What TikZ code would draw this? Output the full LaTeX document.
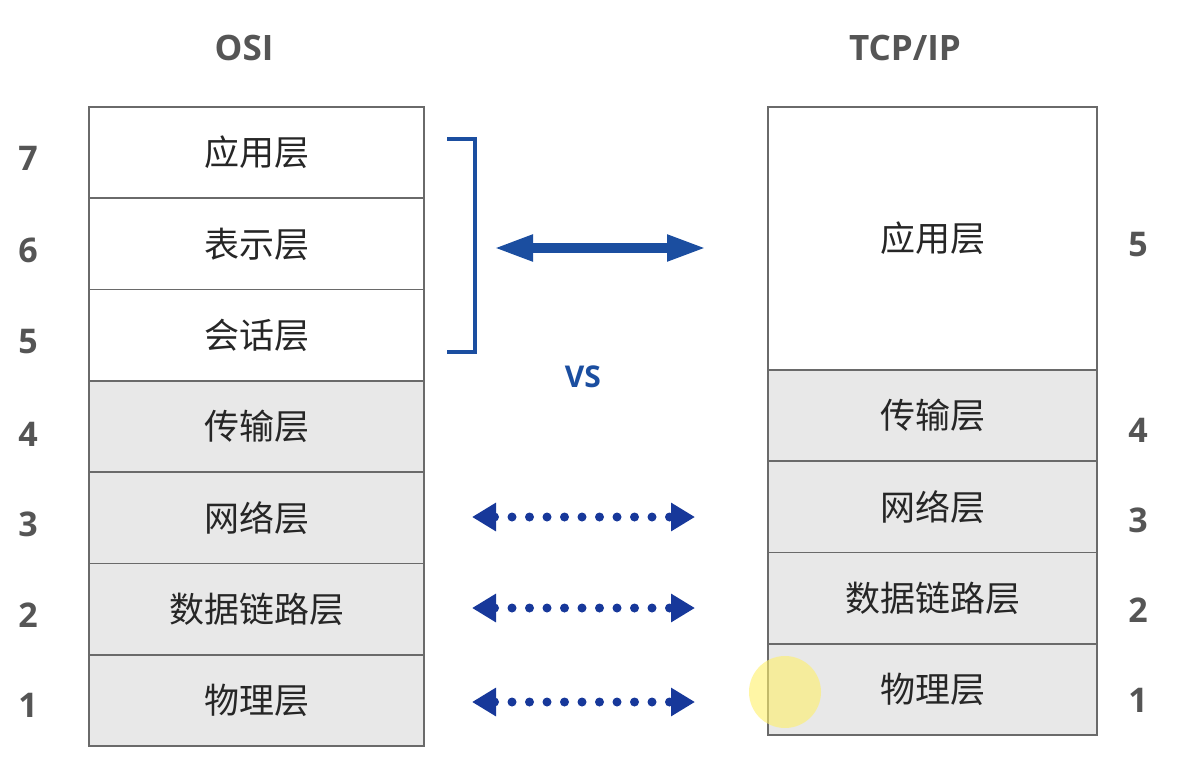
\documentclass[tikz,border=0pt]{standalone}
\usepackage{fontspec}
\setmainfont{Open Sans}
\newfontfamily\cjk{Noto Sans CJK SC}
\usetikzlibrary{arrows.meta}
\definecolor{bordergray}{HTML}{6A6A6A}
\definecolor{fillgray}{HTML}{E8E8E8}
\definecolor{titlegray}{HTML}{555555}
\definecolor{arrowblue}{HTML}{1B4EA0}
\definecolor{dotblue}{HTML}{17389A}
\definecolor{hiyellow}{HTML}{FFF06A}
\tikzset{
  layer/.style={draw=bordergray, line width=1.6pt, inner sep=0pt, outer sep=0pt,
    font=\cjk\fontsize{35}{35}\selectfont, text=black!85},
  osilayer/.style={layer, minimum width=335pt, minimum height=91.3pt},
  tcplayer/.style={layer, minimum width=329pt, minimum height=91.3pt},
  grayfill/.style={fill=fillgray},
  num/.style={font=\fontsize{34}{34}\selectfont\bfseries, text=titlegray},
  title/.style={font=\fontsize{35}{35}\selectfont\bfseries, text=titlegray},
  bigarrow/.style={draw=arrowblue, line width=10pt,
    {Triangle[length=40pt,width=24pt]}-{Triangle[length=40pt,width=24pt]}},
  dotarrow/.style={draw=dotblue, line width=9pt, line cap=round, dash pattern=on 0pt off 17.5pt,
    {Triangle[length=24pt,width=27pt]}-{Triangle[length=24pt,width=27pt]}},
  bracketline/.style={draw=arrowblue, line width=4.5pt}
}
\begin{document}
\begin{tikzpicture}[x=1pt,y=-1pt]
\useasboundingbox[fill=white] (0,0) rectangle (1190,770);
% titles
\node[title] (tosi) at (244,48) {OSI};
\node[title] (ttcp) at (905,48) {TCP/IP};
% OSI stack
\node[osilayer] (o7) at (256.5,152.6) {应用层};
\node[osilayer] (o6) at (256.5,243.9) {表示层};
\node[osilayer] (o5) at (256.5,335.2) {会话层};
\node[osilayer,grayfill] (o4) at (256.5,426.5) {传输层};
\node[osilayer,grayfill] (o3) at (256.5,517.8) {网络层};
\node[osilayer,grayfill] (o2) at (256.5,609.1) {数据链路层};
\node[osilayer,grayfill] (o1) at (256.5,700.4) {物理层};
% TCP/IP stack
\node[tcplayer, minimum height=263pt] (t5) at (932.5,238.5) {应用层};
\node[tcplayer,grayfill] (t4) at (932.5,415.5) {传输层};
\node[tcplayer,grayfill] (t3) at (932.5,506.8) {网络层};
\node[tcplayer,grayfill] (t2) at (932.5,598.1) {数据链路层};
\node[tcplayer,grayfill] (t1) at (932.5,689.4) {物理层};
% numbers
\node[num] (n7) at (28,158) {7};
\node[num] (n6) at (28,250) {6};
\node[num] (n5) at (28,342) {5};
\node[num] (n4) at (28,434) {4};
\node[num] (n3) at (28,524) {3};
\node[num] (n2) at (28,615) {2};
\node[num] (n1) at (28,705) {1};
\node[num] (m5) at (1138,245) {5};
\node[num] (m4) at (1138,430) {4};
\node[num] (m3) at (1138,520) {3};
\node[num] (m2) at (1138,610) {2};
\node[num] (m1) at (1138,700) {1};
% bracket
\coordinate (bt) at (447,139);
\coordinate (bb) at (447,352);
\draw[bracketline] (bt) -- (475,139) -- (475,352) -- (bb);
% big arrow
\coordinate (ba) at (493,248);
\coordinate (bz) at (707,248);
\draw[bigarrow] (ba) -- (bz);
\node[font=\fontsize{30}{30}\selectfont\bfseries, text=arrowblue] (vs) at (583,377) {VS};
% dotted arrows
\coordinate (a3) at (472,517); \coordinate (b3) at (695,517);
\coordinate (a2) at (472,608); \coordinate (b2) at (695,608);
\coordinate (a1) at (472,702); \coordinate (b1) at (695,702);
\draw[dotarrow] (a3) -- (b3);
\draw[dotarrow] (a2) -- (b2);
\draw[dotarrow] (a1) -- (b1);
% highlight
\fill[hiyellow, opacity=0.6] (785,692) circle (36);
\end{tikzpicture}
\end{document}
